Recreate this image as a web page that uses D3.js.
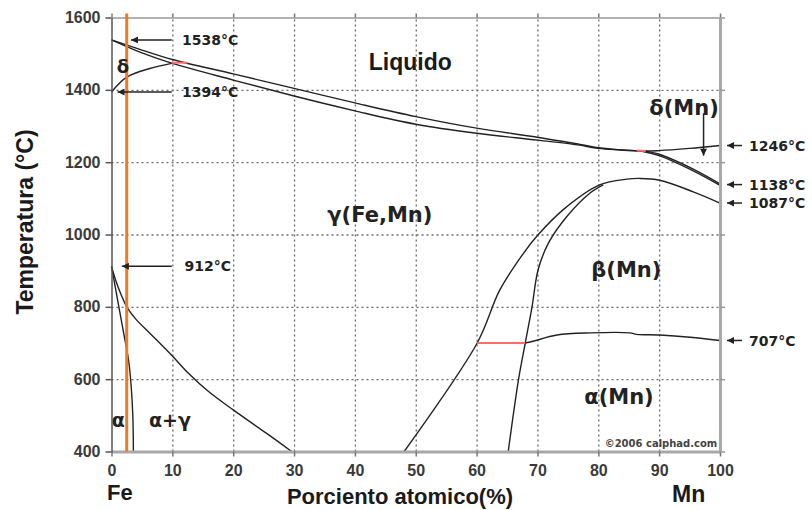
<!DOCTYPE html>
<html>
<head>
<meta charset="utf-8">
<script src="https://cdn.jsdelivr.net/npm/d3@7"></script>
<style>
    body { margin: 0; background: #fff; }
    .phase { fill: none; stroke: #222; stroke-width: 1.4; }
    .tick text { font-family: "Liberation Sans", Arial, sans-serif; font-weight: bold; font-size: 16px; fill: #3a3a3a; }
    .note { font-family: "DejaVu Sans", Verdana, sans-serif; font-weight: bold; font-size: 14px; fill: #222; }
    .label { font-family: "DejaVu Sans", Verdana, sans-serif; font-weight: bold; fill: #222; }
    .title { font-family: "Liberation Sans", Arial, sans-serif; font-weight: bold; fill: #1a1a1a; }
</style>
</head>
<body>
<div id="vis-container"></div>
<script>
// Fe-Mn phase diagram
var xTicks = [0, 10, 20, 30, 40, 50, 60, 70, 80, 90, 100];
var yTicks = [400, 600, 800, 1000, 1200, 1400, 1600];

// each boundary is a list of [at.% Mn, temperature]
var liquidus = [[0,1538],[5,1510],[10,1484],[20,1444],[30,1404],[40,1364],[50,1326],[60,1294],[70,1269],[77,1249],[80,1240],[87,1231],[90,1232],[95,1238],[100,1246]];
var solidus = [[0,1538],[5,1502],[10,1473],[20,1427],[30,1383],[40,1342],[50,1305],[60,1280],[70,1261],[77,1247],[80,1238],[87,1231]];
var deltaLoop = [[0,1394],[2.5,1435],[6.3,1459],[9.9,1473]];
var deltaMnUpper = [[87,1232],[90,1222],[95.6,1181],[100,1140]];
var deltaMnLower = [[87,1231],[90,1218],[95.6,1176],[100,1136]];
var gammaAlpha = [[0,912],[0.8,868],[1.6,833],[2.5,800],[4,766],[6.3,727],[10,664],[12.6,617],[16,565],[20,515],[25.5,450],[29.6,400]];
var alphaSolvus = [[0,912],[1.9,736],[2.8,653],[3.2,588],[3.5,500],[3.6,400]];
var gammaBeta = [[48.1,400],[60.1,700],[63.8,846],[67.7,948],[70,997],[74.2,1068],[80.2,1137],[84.7,1153],[86.9,1155],[90.1,1150],[95.6,1118],[100,1087]];
var betaGamma = [[65.2,400],[66.9,600],[68,700],[69.1,799],[70.1,902],[71.8,976],[74.8,1049],[78.6,1114],[80.8,1137]];
var betaAlpha = [[68,700],[69.1,704],[73.2,722],[78.6,728],[85.2,728],[86.3,724],[90.1,722],[95.1,716],[100,707]];

// invariant reactions (red) and the marked alloy (orange)
var invariants = [[[9.9,1475],[12.5,1475]], [[60.1,700],[68,700]], [[86.3,1232],[87.8,1231]]];
var alloy = 2.5;

// temperatures that are pointed at with arrows
var leftNotes = [1538, 1394, 912];
var rightNotes = [1246, 1138, 1087, 707];

var phaseNames = ["Liquido", "δ", "γ(Fe,Mn)", "β(Mn)", "α(Mn)", "δ(Mn)", "α", "α+γ"];

var visContainer = d3.select("#vis-container");

var margins = { top: 17.5, right: 92, bottom: 58.5, left: 111.5 };
var width = 812;
var height = 510;
var visWidth = width - margins.left - margins.right;
var visHeight = height - margins.top - margins.bottom;

var svg = visContainer.append("svg").attr("width", width).attr("height", height);
var viewport = svg.append("g").attr("transform", "translate(" + margins.left + "," + margins.top + ")");

var defs = svg.append("defs");
defs.append("marker")
    .attr("id", "head")
    .attr("viewBox", "0 0 10 10")
    .attr("refX", 10).attr("refY", 5)
    .attr("markerUnits", "userSpaceOnUse")
    .attr("markerWidth", 8).attr("markerHeight", 7)
    .attr("orient", "auto")
    .append("path").attr("d", "M0,0 L10,5 L0,10 z").attr("fill", "#222");

var xScale = d3.scaleLinear().domain([0, 100]).range([0, visWidth]);
var yScale = d3.scaleLinear().domain([400, 1600]).range([visHeight, 0]);

// dotted grid, drawn with the axis generators so the lines sit on the ticks
var gridX = viewport.append("g")
    .attr("transform", "translate(0," + visHeight + ")")
    .call(d3.axisBottom(xScale).tickValues(xTicks.slice(1, -1)).tickSize(-visHeight).tickFormat(""));
var gridY = viewport.append("g")
    .call(d3.axisLeft(yScale).tickValues(yTicks.slice(1, -1)).tickSize(-visWidth).tickFormat(""));
[gridX, gridY].forEach(function (g) {
    g.select(".domain").remove();
    g.selectAll(".tick line")
        .attr("stroke", "#6a6a6a").attr("stroke-width", 1.3)
        .attr("stroke-dasharray", "2,3");
});

// phase boundaries
var lineGen = d3.line()
    .x(d => xScale(d[0]))
    .y(d => yScale(d[1]))
    .curve(d3.curveCatmullRom.alpha(0.5));

var curves = [liquidus, solidus, deltaLoop, deltaMnUpper, deltaMnLower, gammaAlpha, alphaSolvus, gammaBeta, betaGamma, betaAlpha];
var visualization = viewport.append("g");
visualization.selectAll(".phase").data(curves).enter().append("path")
    .attr("class", "phase")
    .attr("d", d => lineGen(d));

visualization.selectAll(".inv").data(invariants).enter().append("path")
    .attr("class", "inv")
    .attr("d", d => d3.line().x(p => xScale(p[0])).y(p => yScale(p[1]))(d))
    .attr("stroke", "#ff6a6a").attr("stroke-width", 2).attr("fill", "none");

// axes
var axisG = viewport.append("g");

var xAxis = axisG.append("g")
    .attr("transform", "translate(0," + visHeight + ")")
    .call(d3.axisBottom(xScale).tickValues(xTicks).tickSize(5).tickSizeOuter(0).tickPadding(8));
xAxis.select(".domain").attr("stroke", "#a8a8a8").attr("stroke-width", 3);
xAxis.selectAll(".tick line").attr("stroke", "#777").attr("stroke-width", 1.5);

var topAxis = axisG.append("g")
    .call(d3.axisTop(xScale).tickValues(xTicks).tickSize(4).tickSizeOuter(0).tickFormat(""));
topAxis.select(".domain").attr("stroke", "#999").attr("stroke-width", 1.5);
topAxis.selectAll(".tick line").attr("stroke", "#777").attr("stroke-width", 1.5);

var rightAxis = axisG.append("g")
    .attr("transform", "translate(" + visWidth + ",0)")
    .call(d3.axisRight(yScale).tickValues(yTicks).tickSize(5).tickSizeOuter(0).tickFormat(""));
rightAxis.select(".domain").attr("stroke", "#a8a8a8").attr("stroke-width", 3);
rightAxis.selectAll(".tick line").attr("stroke", "#999").attr("stroke-width", 1.5);

var yAxis = axisG.append("g")
    .call(d3.axisLeft(yScale).tickValues(yTicks).tickSize(6).tickSizeOuter(0).tickPadding(5).tickFormat(d3.format("d")));
yAxis.select(".domain").attr("stroke", "#555").attr("stroke-width", 1.5);
yAxis.selectAll(".tick line").attr("stroke", "#555").attr("stroke-width", 1.5);

// the orange alloy line
viewport.append("line")
    .attr("x1", xScale(alloy)).attr("x2", xScale(alloy))
    .attr("y1", -4).attr("y2", visHeight)
    .attr("stroke", "#f7761e").attr("stroke-width", 3);

// arrows with temperatures
var leftTips = [3.2, 1.0, 1.7];
var notes = viewport.append("g");
leftNotes.forEach(function (t, i) {
    notes.append("line")
        .attr("x1", xScale(9.9)).attr("x2", xScale(leftTips[i]))
        .attr("y1", yScale(t)).attr("y2", yScale(t))
        .attr("stroke", "#222").attr("stroke-width", 1.5)
        .attr("marker-end", "url(#head)");
    notes.append("text").attr("class", "note")
        .attr("x", xScale(i == 2 ? 12 : 11.6)).attr("y", yScale(t))
        .attr("dy", "0.36em")
        .text(t + "°C");
});
rightNotes.forEach(function (t) {
    notes.append("line")
        .attr("x1", visWidth + 22).attr("x2", visWidth + 7)
        .attr("y1", yScale(t)).attr("y2", yScale(t))
        .attr("stroke", "#222").attr("stroke-width", 1.5)
        .attr("marker-end", "url(#head)");
    notes.append("text").attr("class", "note")
        .attr("x", visWidth + 29).attr("y", yScale(t))
        .attr("dy", "0.36em")
        .text(t + "°C");
});
// arrow from the δ(Mn) label down to its field
notes.append("line")
    .attr("x1", xScale(97.3)).attr("x2", xScale(97.3))
    .attr("y1", yScale(1335)).attr("y2", yScale(1218))
    .attr("stroke", "#222").attr("stroke-width", 1.5)
    .attr("marker-end", "url(#head)");

// phase field names
var namePos = [[49.1, 1477, 23], [1.9, 1463, 18], [44.1, 1054, 21], [84.6, 902, 21], [83.4, 551, 21], [94.1, 1350, 21], [1.1, 487, 19], [9.6, 487, 19]];
phaseNames.forEach(function (name, i) {
    viewport.append("text")
        .attr("class", i == 0 ? "title" : "label")
        .attr("x", xScale(namePos[i][0])).attr("y", yScale(namePos[i][1]))
        .attr("dy", "0.35em")
        .attr("text-anchor", "middle")
        .style("font-size", namePos[i][2] + "px")
        .text(name);
});

viewport.append("text")
    .attr("class", "label")
    .attr("x", xScale(90.3)).attr("y", yScale(423))
    .attr("dy", "0.35em")
    .attr("text-anchor", "middle")
    .style("font-size", "10px").style("fill", "#444")
    .text("©2006 calphad.com");

// axis titles
svg.append("text").attr("class", "title")
    .attr("transform", "translate(33,222) rotate(-90)")
    .attr("text-anchor", "middle")
    .style("font-size", "23px")
    .text("Temperatura (°C)");

svg.append("text").attr("class", "title")
    .attr("x", 400).attr("y", 504)
    .attr("text-anchor", "middle")
    .style("font-size", "22px")
    .text("Porciento atomico(%)");

svg.append("text").attr("class", "title")
    .attr("x", 107).attr("y", 500)
    .style("font-size", "22px")
    .text("Fe");

svg.append("text").attr("class", "title")
    .attr("x", 672).attr("y", 502)
    .style("font-size", "23px")
    .text("Mn");
</script>
</body>
</html>
